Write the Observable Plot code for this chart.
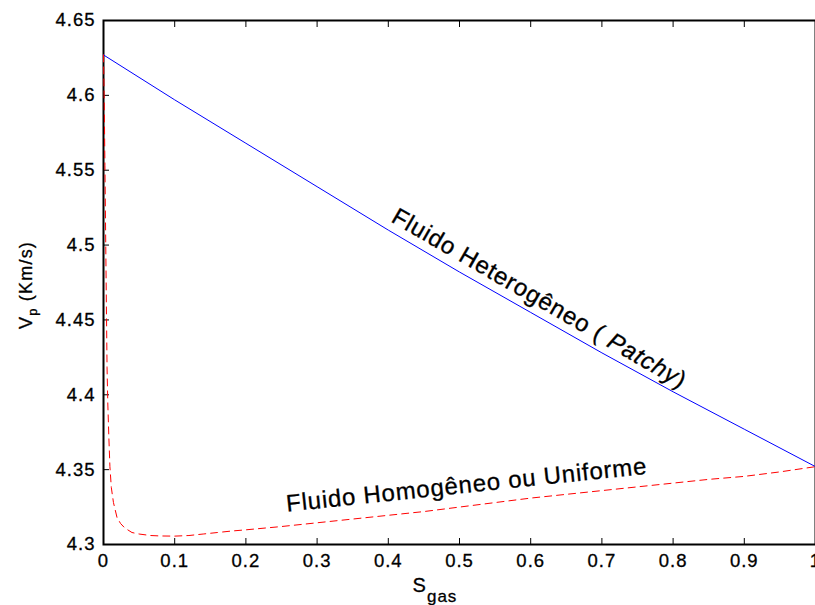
<!DOCTYPE html>
<html><head><meta charset="utf-8">
<script src="https://cdn.jsdelivr.net/npm/d3@7"></script>
<script src="https://cdn.jsdelivr.net/npm/@observablehq/plot@0.6"></script>
<style>
body{margin:0;background:#fff;}
svg{font-family:"Liberation Sans",Arial,Helvetica,sans-serif;}
svg text{stroke:black;stroke-width:0.3px;}
</style>
</head><body><div id="chart"></div>
<script>
// Heterogeneous (patchy) fluid
const patchyS  = [0, 0.1, 0.2, 0.3, 0.4, 0.5, 0.6, 0.7, 0.8, 0.9, 1.0];
const patchyVp = [4.627, 4.597, 4.568, 4.539, 4.510, 4.482, 4.455, 4.428, 4.402, 4.377, 4.352];
// Homogeneous (uniform) fluid
const uniformS  = [0, 0.001, 0.002, 0.003, 0.004, 0.005, 0.006, 0.0075, 0.009, 0.011, 0.014, 0.019, 0.024, 0.03, 0.04, 0.05, 0.066, 0.08, 0.1, 0.12, 0.14, 0.16, 0.18, 0.2, 0.25, 0.3, 0.35, 0.4, 0.45, 0.5, 0.55, 0.6, 0.65, 0.7, 0.75, 0.8, 0.85, 0.9, 0.95, 1.0];
const uniformVp = [4.627, 4.597, 4.553, 4.508, 4.462, 4.418, 4.395, 4.372, 4.352, 4.338, 4.328, 4.318, 4.314, 4.311, 4.308, 4.307, 4.306, 4.3057, 4.3056, 4.306, 4.307, 4.308, 4.309, 4.3098, 4.312, 4.3145, 4.317, 4.3195, 4.322, 4.325, 4.328, 4.331, 4.3335, 4.336, 4.3385, 4.341, 4.3435, 4.3455, 4.3485, 4.352];

const xTicks = [0, 0.1, 0.2, 0.3, 0.4, 0.5, 0.6, 0.7, 0.8, 0.9, 1];
const xTickLabels = ["0", "0.1", "0.2", "0.3", "0.4", "0.5", "0.6", "0.7", "0.8", "0.9", "1"];
const yTicks = [4.3, 4.35, 4.4, 4.45, 4.5, 4.55, 4.6, 4.65];
const yTickLabels = ["4.3", "4.35", "4.4", "4.45", "4.5", "4.55", "4.6", "4.65"];

const annotX = [0.612, 0.51];
const annotY = [4.4643, 4.3397];
const annotText = ["Fluido Heterogêneo ( Patchy)", "Fluido Homogêneo ou Uniforme"];
const annotRotate = [30, -6];

const patchy = patchyS.map((s, i) => ({s, v: patchyVp[i]}));
const uniform = uniformS.map((s, i) => ({s, v: uniformVp[i]}));
const annots = annotText.map((t, i) => ({x: annotX[i], y: annotY[i], text: t, rotate: annotRotate[i]}));

const chart = Plot.plot({
  width: 815, height: 605,
  marginLeft: 103, marginRight: 0, marginTop: 20, marginBottom: 61,
  x: {domain: [0, 1]},
  y: {domain: [4.3, 4.65]},
  style: {background: "white", color: "black", fontFamily: '"Liberation Sans", Arial, sans-serif'},
  marks: [
    Plot.axisX({anchor: "bottom", ticks: xTicks, tickSize: -6, text: null, label: null, strokeWidth: 1}),
    Plot.axisX({anchor: "top", ticks: xTicks, tickSize: -6, text: null, label: null, strokeWidth: 1}),
    Plot.axisY({anchor: "left", ticks: yTicks, tickSize: -6, text: null, label: null, strokeWidth: 1}),
    Plot.axisX({anchor: "bottom", ticks: xTicks, tickSize: 0, tickPadding: 9, fontSize: 18.5, label: null,
      tickFormat: d => xTickLabels[xTicks.indexOf(d)]}),
    Plot.axisY({anchor: "left", ticks: yTicks, tickSize: 0, tickPadding: 8, fontSize: 18.5, label: null,
      tickFormat: d => yTickLabels[yTicks.indexOf(d)]}),
    Plot.frame({stroke: "black", strokeWidth: 2}),
    Plot.line(patchy, {x: "s", y: "v", stroke: "#0000ff", strokeWidth: 1}),
    Plot.line(uniform, {x: "s", y: "v", stroke: "#ff0000", strokeWidth: 1, strokeDasharray: "7,5"}),
    Plot.text(annots, {x: "x", y: "y", text: "text", rotate: "rotate", fontSize: 24, textAnchor: "middle", lineAnchor: "middle", fill: "black"})
  ]
});
document.getElementById("chart").appendChild(chart);

const svg = d3.select(chart);
svg.selectAll('g[aria-label="x-axis tick label"] text, g[aria-label="y-axis tick label"] text')
  .style("letter-spacing", "1px");
// italic "Patchy"
svg.selectAll('g[aria-label="text"] text').each(function() {
  const el = d3.select(this);
  el.style("letter-spacing", "0.8px");
  const t = el.text();
  if (t.includes("Patchy")) {
    el.text(null);
    el.append("tspan").text("Fluido Heterogêneo ( ");
    el.append("tspan").attr("font-style", "italic").text("Patchy");
    el.append("tspan").text(")");
  }
});
// axis labels
const yl = svg.append("text")
  .attr("transform", "translate(32,285) rotate(-90)")
  .attr("text-anchor", "middle").attr("font-size", 18).style("letter-spacing", "1.2px").attr("fill", "black");
yl.append("tspan").text("V");
yl.append("tspan").attr("font-size", 13).attr("dy", 5).text("p");
yl.append("tspan").attr("dy", -5).text(" (Km/s)");
const xl = svg.append("text")
  .attr("x", 435).attr("y", 592)
  .attr("font-size", 20).attr("fill", "black").style("letter-spacing", "1px");
xl.append("tspan").text("S");
xl.append("tspan").attr("font-size", 17).attr("dy", 10).text("gas");
</script>
</body></html>
